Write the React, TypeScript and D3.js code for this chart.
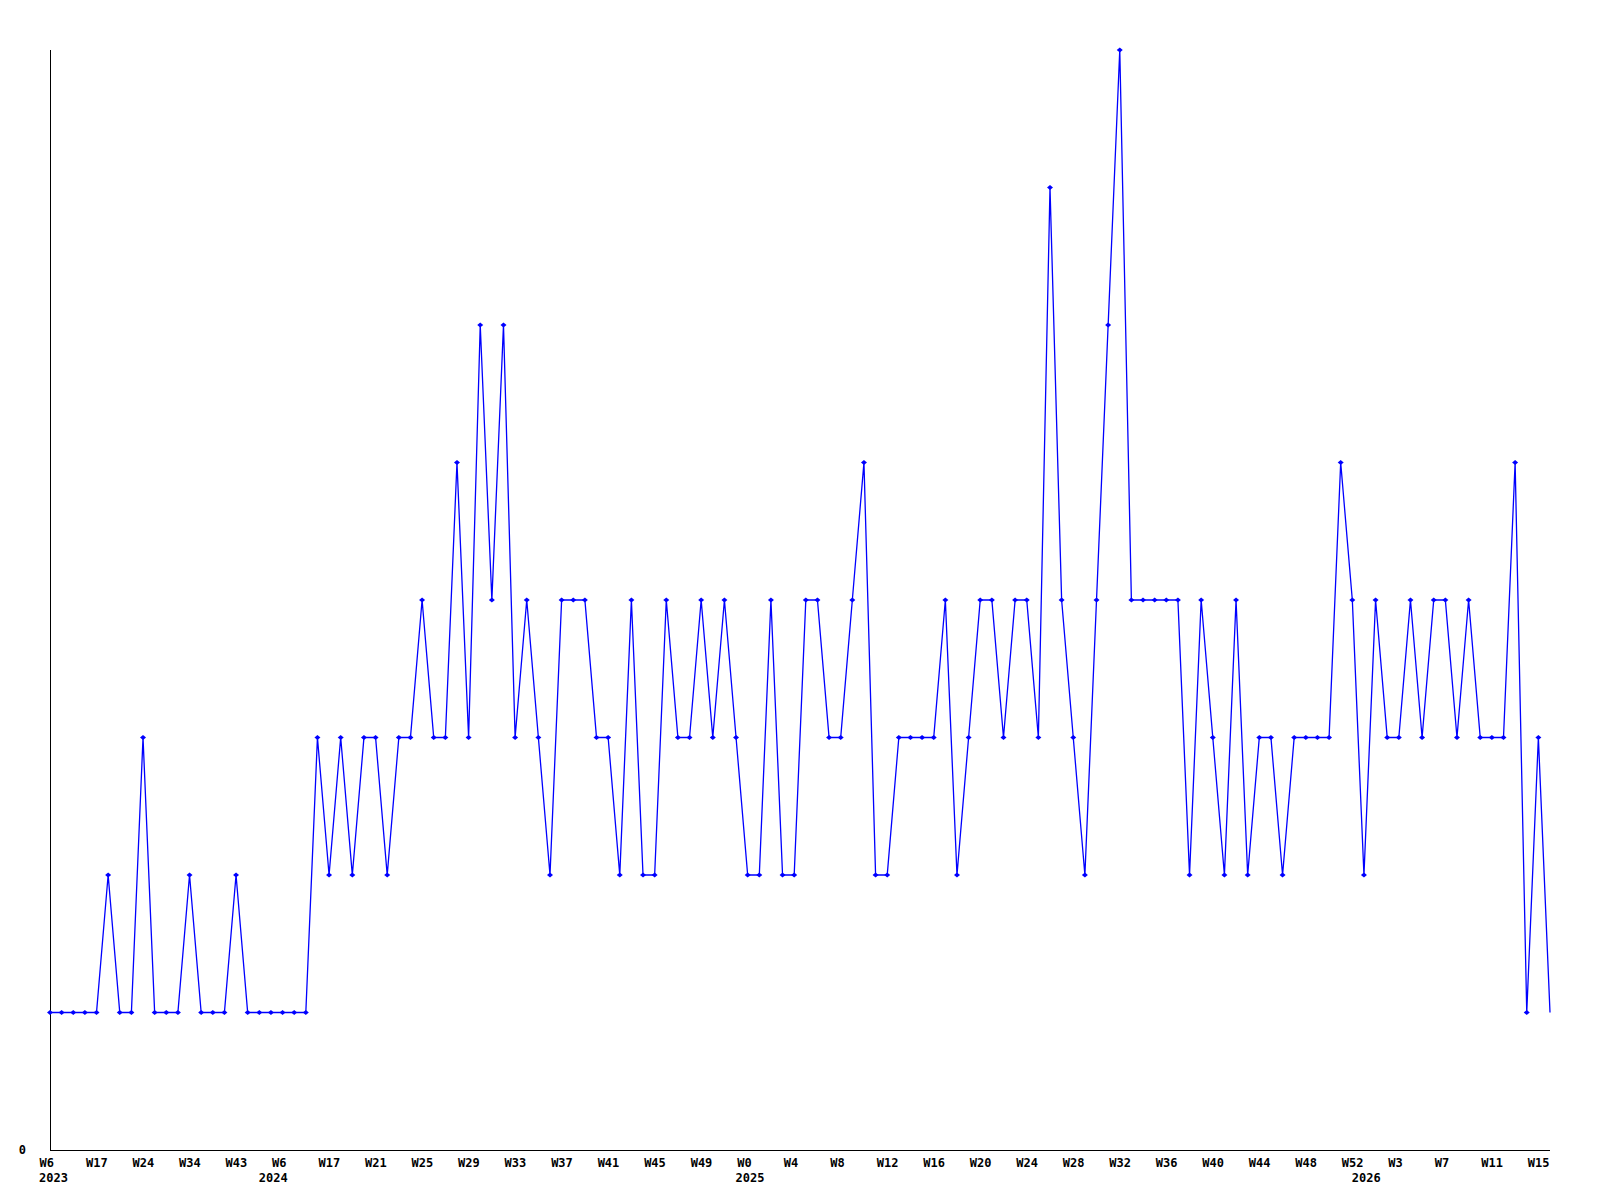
import { useEffect, useRef } from 'react'
import * as d3 from 'd3'

// weekly counts, one per point on the x axis
const values = [
  1, 1, 1, 1, 1, 2, 1, 1, 3, 1,
  1, 1, 2, 1, 1, 1, 2, 1, 1, 1,
  1, 1, 1, 3, 2, 3, 2, 3, 3, 2,
  3, 3, 4, 3, 3, 5, 3, 6, 4, 6,
  3, 4, 3, 2, 4, 4, 4, 3, 3, 2,
  4, 2, 2, 4, 3, 3, 4, 3, 4, 3,
  2, 2, 4, 2, 2, 4, 4, 3, 3, 4,
  5, 2, 2, 3, 3, 3, 3, 4, 2, 3,
  4, 4, 3, 4, 4, 3, 7, 4, 3, 2,
  4, 6, 8, 4, 4, 4, 4, 4, 2, 4,
  3, 2, 4, 2, 3, 3, 2, 3, 3, 3,
  3, 5, 4, 2, 4, 3, 3, 4, 3, 4,
  4, 3, 4, 3, 3, 3, 5, 1, 3, 1,
]

// a week label every 4th point
const weekLabels = [
  'W6', 'W17', 'W24', 'W34', 'W43', 'W6', 'W17', 'W21', 'W25', 'W29', 'W33',
  'W37', 'W41', 'W45', 'W49', 'W0', 'W4', 'W8', 'W12', 'W16', 'W20', 'W24',
  'W28', 'W32', 'W36', 'W40', 'W44', 'W48', 'W52', 'W3', 'W7', 'W11', 'W15',
]
const labelStep = 4

// year labels and where they sit along the point index
const years = ['2023', '2024', '2025', '2026']
const yearAt = [0.3, 19.2, 60.2, 113.2]

const yMax = 8

export default function App() {
  const ref = useRef<SVGSVGElement>(null)

  useEffect(() => {
    const width = 1600
    const height = 1200
    const margin = { top: 50, right: 50, bottom: 50, left: 50 }
    const svg = d3.select(ref.current)
    svg.selectAll('*').remove()
    svg.attr('width', width).attr('height', height)

    const x = d3.scaleLinear().domain([0, values.length - 1]).range([margin.left, width - margin.right])
    const y = d3.scaleLinear().domain([0, yMax]).range([height - margin.bottom, margin.top])

    const font = '"DejaVu Sans Mono", monospace'

    // axes
    const axes = svg.append('g').attr('shape-rendering', 'crispEdges').attr('stroke', '#000')
    axes.append('line')
      .attr('x1', x(0) + 0.5).attr('x2', x(0) + 0.5)
      .attr('y1', y(yMax)).attr('y2', y(0) + 0.5)
    axes.append('line')
      .attr('x1', x(0)).attr('x2', x(values.length - 1))
      .attr('y1', y(0) + 0.5).attr('y2', y(0) + 0.5)

    svg.append('text')
      .attr('x', 26).attr('y', y(0) + 4)
      .attr('text-anchor', 'end')
      .style('font-family', font).style('font-size', '12px').style('font-weight', 'bold')
      .text('0')

    // week labels
    svg.append('g').selectAll('text').data(weekLabels).enter().append('text')
      .attr('x', (d, i) => x(i * labelStep) - 10.5)
      .attr('y', y(0) + 17)
      .style('font-family', font).style('font-size', '12px').style('font-weight', 'bold')
      .text(d => d)

    svg.append('g').selectAll('text').data(years).enter().append('text')
      .attr('x', (d, i) => x(yearAt[i]))
      .attr('y', y(0) + 32)
      .attr('text-anchor', 'middle')
      .style('font-family', font).style('font-size', '12px').style('font-weight', 'bold')
      .text(d => d)

    // series line
    const line = d3.line<number>().x((d, i) => x(i)).y(d => y(d))
    svg.append('path')
      .datum(values)
      .attr('d', line)
      .attr('fill', 'none')
      .attr('stroke', '#0000ff')
      .attr('stroke-width', 1.3)

    // point markers (last one isn't drawn in the source)
    svg.append('g').selectAll('path').data(values.slice(0, -1)).enter().append('path')
      .attr('d', (d, i) => {
        const cx = x(i), cy = y(d)
        return `M${cx - 3},${cy} L${cx},${cy - 2.5} L${cx + 3},${cy} L${cx},${cy + 2.5} Z`
      })
      .attr('fill', '#0000ff')
  }, [])

  return <svg ref={ref} style={{ position: 'absolute', left: 0, top: 0, background: '#fff' }} />
}
